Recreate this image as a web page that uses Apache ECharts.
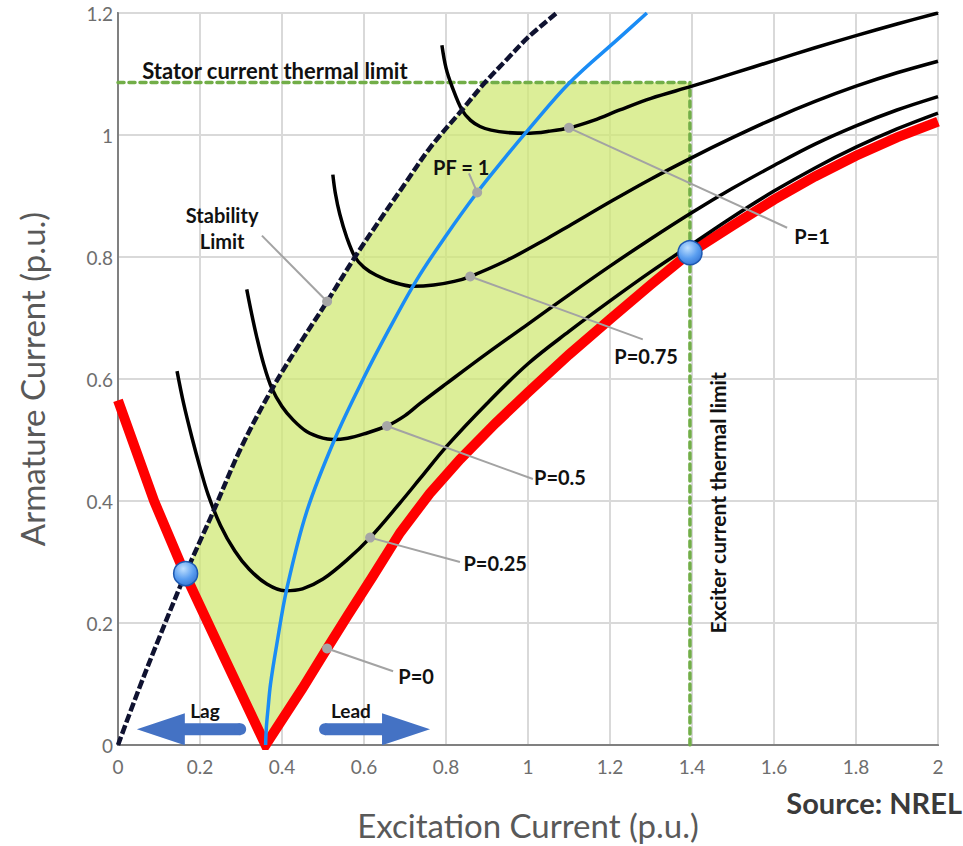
<!DOCTYPE html>
<html>
<head>
<meta charset="utf-8">
<script src="https://cdn.jsdelivr.net/npm/echarts@6/dist/echarts.min.js"></script>
<style>html,body{margin:0;padding:0;background:#fff}#chart{width:963px;height:846px}</style>
</head>
<body>
<div id="chart"></div>
<script>
// ---------- axis settings ----------
const xMin = 0, xMax = 2, xStep = 0.2;
const yMin = 0, yMax = 1.2, yStep = 0.2;

// ---------- curves (Excitation current x, Armature current y) ----------
const p0LeftX  = [0, 0.088, 0.163, 0.26, 0.36];
const p0LeftY  = [0.565, 0.4, 0.281, 0.142, 0];
const p0RightX = [0.36, 0.45, 0.507, 0.56, 0.62, 0.688, 0.76, 0.834, 0.92, 1.0, 1.1, 1.2, 1.3, 1.393, 1.5, 1.6, 1.7, 1.8, 1.9, 2.0];
const p0RightY = [0, 0.093, 0.155, 0.212, 0.275, 0.348, 0.412, 0.468, 0.527, 0.578, 0.64, 0.698, 0.755, 0.806, 0.852, 0.894, 0.932, 0.966, 0.996, 1.022];

const p025X = [0.144, 0.16, 0.18, 0.2, 0.22, 0.25, 0.285, 0.32, 0.363, 0.407, 0.45, 0.5, 0.558, 0.615, 0.688, 0.737, 0.802, 0.9, 1.0, 1.1, 1.2, 1.3, 1.4, 1.5, 1.6, 1.7, 1.8, 1.9, 2.0];
const p025Y = [0.613, 0.56, 0.505, 0.455, 0.41, 0.36, 0.318, 0.288, 0.264, 0.253, 0.256, 0.272, 0.303, 0.34, 0.397, 0.437, 0.49, 0.56, 0.625, 0.678, 0.728, 0.776, 0.821, 0.866, 0.908, 0.946, 0.98, 1.01, 1.036];

const p05X = [0.314, 0.325, 0.338, 0.355, 0.375, 0.4, 0.427, 0.46, 0.5, 0.524, 0.56, 0.6, 0.656, 0.7, 0.737, 0.8, 0.9, 1.0, 1.1, 1.2, 1.3, 1.4, 1.5, 1.6, 1.7, 1.8, 1.9, 2.0];
const p05Y = [0.747, 0.71, 0.67, 0.625, 0.585, 0.555, 0.533, 0.514, 0.503, 0.501, 0.503, 0.51, 0.523, 0.54, 0.56, 0.592, 0.642, 0.69, 0.738, 0.785, 0.83, 0.873, 0.913, 0.95, 0.985, 1.015, 1.041, 1.063];

const p075X = [0.524, 0.53, 0.541, 0.558, 0.578, 0.6, 0.63, 0.67, 0.72, 0.77, 0.82, 0.859, 0.95, 1.046, 1.1, 1.207, 1.3, 1.4, 1.5, 1.6, 1.7, 1.8, 1.9, 2.0];
const p075Y = [0.935, 0.905, 0.87, 0.832, 0.8, 0.783, 0.77, 0.759, 0.752, 0.754, 0.76, 0.768, 0.795, 0.83, 0.851, 0.893, 0.928, 0.963, 0.996, 1.027, 1.055, 1.08, 1.102, 1.121];

const p1X = [0.79, 0.8, 0.815, 0.839, 0.86, 0.883, 0.91, 0.949, 1.005, 1.05, 1.102, 1.16, 1.224, 1.3, 1.4, 1.5, 1.6, 1.7, 1.8, 1.9, 2.0];
const p1Y = [1.147, 1.11, 1.079, 1.041, 1.024, 1.014, 1.008, 1.004, 1.003, 1.006, 1.012, 1.024, 1.041, 1.06, 1.08, 1.101, 1.122, 1.143, 1.163, 1.182, 1.2];

const pfX = [0.36, 0.362, 0.366, 0.372, 0.387, 0.412, 0.46, 0.529, 0.598, 0.66, 0.729, 0.8, 0.875, 0.944, 1.0, 1.102, 1.224, 1.29];
const pfY = [0, 0.03, 0.06, 0.1, 0.164, 0.257, 0.382, 0.502, 0.6, 0.68, 0.763, 0.835, 0.905, 0.963, 1.008, 1.086, 1.16, 1.2];

const stabX = [0, 0.05, 0.1, 0.163, 0.232, 0.3, 0.376, 0.45, 0.51, 0.578, 0.64, 0.7, 0.761, 0.839, 0.895, 0.95, 1.0, 1.07];
const stabY = [0, 0.09, 0.175, 0.278, 0.382, 0.487, 0.584, 0.665, 0.727, 0.8, 0.862, 0.92, 0.979, 1.041, 1.086, 1.125, 1.16, 1.2];

// ---------- limits & operating points ----------
const statorLimit = 1.086;
const exciterLimit = 1.395;
const opX = [0.165, 1.395];
const opY = [0.281, 0.807];

// ---------- annotations ----------
const annLabels  = ['Stability\nLimit', 'PF = 1', 'P=1', 'P=0.75', 'P=0.5', 'P=0.25', 'P=0'];
const annCurve   = ['stab', 'pf', 'p1', 'p075', 'p05', 'p025', 'p0'];
const annMarkerX = [0.51, 0.876, 1.1, 0.859, 0.656, 0.615, 0.51];
const annLeaderX = [0.351, 0.856, 1.632, 1.28, 1.012, 0.834, 0.671];
const annLeaderY = [0.835, 0.937, 0.848, 0.665, 0.436, 0.3, 0.121];
const annTextX   = [0.254, 0.837, 1.693, 1.288, 1.078, 0.92, 0.727];
const annTextY   = [0.848, 0.948, 0.834, 0.638, 0.44, 0.298, 0.113];

const noteLabels = ['Stator current thermal limit', 'Exciter current thermal limit', 'Lag', 'Lead'];
const noteX      = [0.059, 1.461, 0.212, 0.568];
const noteY      = [1.105, 0.397, 0.056, 0.056];
const noteRot    = [0, 90, 0, 0];
const noteAlign  = ['left', 'center', 'center', 'center'];
const noteSize   = [22, 21, 19, 19];

const arrowTipX  = [0.046, 0.761];
const arrowBaseX = [0.163, 0.644];
const arrowTailX = [0.298, 0.505];
const arrowY = 0.026;

// ---------- helpers ----------
function pairs(xs, ys) { return xs.map((x, i) => [x, ys[i]]); }
function interp(xs, ys, x) {
  for (let i = 0; i < xs.length - 1; i++) {
    if (x >= xs[i] && x <= xs[i + 1]) {
      const t = (x - xs[i]) / (xs[i + 1] - xs[i]);
      return ys[i] + t * (ys[i + 1] - ys[i]);
    }
  }
  return x < xs[0] ? ys[0] : ys[ys.length - 1];
}
const curves = {
  stab: [stabX, stabY], pf: [pfX, pfY], p1: [p1X, p1Y], p075: [p075X, p075Y],
  p05: [p05X, p05Y], p025: [p025X, p025Y], p0: [p0RightX, p0RightY]
};
const annMarkerY = annMarkerX.map((x, i) => interp(curves[annCurve[i]][0], curves[annCurve[i]][1], x));

// operating region polygon (data coords)
function buildRegion() {
  const poly = [[opX[0], opY[0]]];
  let xc = null;
  for (let i = 0; i < stabX.length - 1; i++) {
    if (stabY[i] <= statorLimit && stabY[i + 1] >= statorLimit) {
      xc = stabX[i] + (statorLimit - stabY[i]) / (stabY[i + 1] - stabY[i]) * (stabX[i + 1] - stabX[i]);
      break;
    }
  }
  stabX.forEach((x, i) => { if (x > opX[0] && x < xc) poly.push([x, stabY[i]]); });
  poly.push([xc, statorLimit]);
  poly.push([exciterLimit, statorLimit]);
  poly.push([exciterLimit, interp(p0RightX, p0RightY, exciterLimit)]);
  for (let i = p0RightX.length - 1; i >= 0; i--) if (p0RightX[i] < exciterLimit) poly.push([p0RightX[i], p0RightY[i]]);
  for (let i = p0LeftX.length - 2; i >= 0; i--) if (p0LeftX[i] > opX[0]) poly.push([p0LeftX[i], p0LeftY[i]]);
  return poly;
}
const region = buildRegion();

const FONT = 'Lato, "Open Sans", sans-serif';

function blackCurve(name, xs, ys) {
  return {
    name, type: 'line', data: pairs(xs, ys), showSymbol: false, symbol: 'none',
    smooth: 0.35, z: 5,
    lineStyle: { color: '#000', width: 3.5 }
  };
}

const chart = echarts.init(document.getElementById('chart'), null, { renderer: 'svg' });
chart.setOption({
  animation: false,
  backgroundColor: '#fff',
  grid: { left: 118, right: 25, top: 13, bottom: 99, show: true, borderColor: '#808080', borderWidth: 2, containLabel: false },
  xAxis: {
    type: 'value', min: xMin, max: xMax, interval: xStep,
    name: 'Excitation Current (p.u.)', nameLocation: 'middle', nameGap: 63,
    nameTextStyle: { color: '#595959', fontSize: 33, fontFamily: FONT },
    axisLine: { show: true, lineStyle: { color: '#808080', width: 2 } },
    axisTick: { show: false },
    axisLabel: { color: '#6e6e6e', fontSize: 19, fontFamily: FONT, margin: 12 },
    splitLine: { show: true, lineStyle: { color: '#d9d9d9', width: 2 } }
  },
  yAxis: {
    type: 'value', min: yMin, max: yMax, interval: yStep,
    name: 'Armature Current (p.u.)', nameLocation: 'middle', nameGap: 70,
    nameTextStyle: { color: '#595959', fontSize: 33, fontFamily: FONT },
    axisLine: { show: true, lineStyle: { color: '#808080', width: 2 } },
    axisTick: { show: false },
    axisLabel: { color: '#6e6e6e', fontSize: 19, fontFamily: FONT, margin: 5 },
    splitLine: { show: true, lineStyle: { color: '#d9d9d9', width: 2 } }
  },
  graphic: [{
    type: 'text', right: 1, top: 788,
    style: { text: 'Source: NREL', fill: '#3a3a3a', font: 'bold 29px ' + FONT }
  }],
  series: [
    {
      name: 'Operating region', type: 'custom', coordinateSystem: 'cartesian2d', z: 1,
      data: [region[0]], silent: true,
      renderItem: function (params, api) {
        return {
          type: 'polygon',
          shape: { points: region.map(p => api.coord(p)) },
          style: { fill: 'rgba(206,232,112,0.72)' }
        };
      }
    },
    {
      name: 'Stator current thermal limit', type: 'line', data: [[xMin, statorLimit], [exciterLimit, statorLimit]],
      showSymbol: false, symbol: 'none', z: 3,
      lineStyle: { color: '#72ae48', width: 3.5, type: [6, 5], cap: 'round' }
    },
    {
      name: 'Exciter current thermal limit', type: 'line', data: [[exciterLimit, yMin], [exciterLimit, statorLimit]],
      showSymbol: false, symbol: 'none', z: 3,
      lineStyle: { color: '#72ae48', width: 3.5, type: [6, 5], cap: 'round' }
    },
    {
      name: 'P=0', type: 'line', data: pairs(p0LeftX, p0LeftY).concat(pairs(p0RightX.slice(1), p0RightY.slice(1))),
      showSymbol: false, symbol: 'none', z: 4,
      lineStyle: { color: '#ff0000', width: 10, join: 'miter' }
    },
    blackCurve('P=0.25', p025X, p025Y),
    blackCurve('P=0.5', p05X, p05Y),
    blackCurve('P=0.75', p075X, p075Y),
    blackCurve('P=1', p1X, p1Y),
    {
      name: 'Stability Limit', type: 'line', data: pairs(stabX, stabY), showSymbol: false, symbol: 'none',
      smooth: 0.35, z: 6,
      lineStyle: { color: '#0f1230', width: 4.5, type: [9, 3], dashOffset: 0 }
    },
    {
      name: 'PF = 1', type: 'line', data: pairs(pfX, pfY), showSymbol: false, symbol: 'none',
      smooth: 0.35, z: 7,
      lineStyle: { color: '#1a8cf5', width: 3.5 }
    },
    {
      name: 'Annotations', type: 'custom', coordinateSystem: 'cartesian2d', z: 8, silent: true,
      data: annMarkerX.map((x, i) => [x, annMarkerY[i]]),
      renderItem: function (params, api) {
        const i = params.dataIndex;
        const m = api.coord([annMarkerX[i], annMarkerY[i]]);
        const l = api.coord([annLeaderX[i], annLeaderY[i]]);
        const t = api.coord([annTextX[i], annTextY[i]]);
        return {
          type: 'group', children: [
            { type: 'line', shape: { x1: m[0], y1: m[1], x2: l[0], y2: l[1] }, style: { stroke: '#a3a3a3', lineWidth: 2 } },
            { type: 'circle', shape: { cx: m[0], cy: m[1], r: 5 }, style: { fill: '#a6a6a6' } },
            { type: 'text', x: t[0], y: t[1], style: { text: annLabels[i], fill: '#111', font: 'bold 20px ' + FONT, align: 'center', verticalAlign: 'middle', textAlign: 'center', textVerticalAlign: 'middle', lineHeight: 26 } }
          ]
        };
      }
    },
    {
      name: 'Notes', type: 'custom', coordinateSystem: 'cartesian2d', z: 8, silent: true,
      data: noteX.map((x, i) => [x, noteY[i]]),
      renderItem: function (params, api) {
        const i = params.dataIndex;
        const p = api.coord([noteX[i], noteY[i]]);
        return {
          type: 'text', x: p[0], y: p[1], rotation: noteRot[i] * Math.PI / 180,
          style: { text: noteLabels[i], fill: '#111', font: 'bold ' + noteSize[i] + 'px ' + FONT, align: noteAlign[i], verticalAlign: 'middle', textAlign: noteAlign[i], textVerticalAlign: 'middle' }
        };
      }
    },
    {
      name: 'Arrows', type: 'custom', coordinateSystem: 'cartesian2d', z: 8, silent: true,
      data: arrowTipX.map((x, i) => [x, arrowY]),
      renderItem: function (params, api) {
        const i = params.dataIndex;
        const tip = api.coord([arrowTipX[i], arrowY]);
        const base = api.coord([arrowBaseX[i], arrowY]);
        const tail = api.coord([arrowTailX[i], arrowY]);
        const hh = 16, sh = 6, cy = tip[1];
        return {
          type: 'group', children: [
            { type: 'polygon', shape: { points: [[tip[0], cy], [base[0], cy - hh], [base[0], cy - sh], [tail[0], cy - sh], [tail[0], cy + sh], [base[0], cy + sh], [base[0], cy + hh]] }, style: { fill: '#4472c4' } },
            { type: 'circle', shape: { cx: tail[0], cy: cy, r: sh }, style: { fill: '#4472c4' } }
          ]
        };
      }
    },
    {
      name: 'Operating limits', type: 'scatter', data: pairs(opX, opY), symbolSize: 24, z: 9,
      itemStyle: {
        opacity: 1,
        color: { type: 'radial', x: 0.4, y: 0.3, r: 0.8, colorStops: [{ offset: 0, color: '#bfe0ff' }, { offset: 0.55, color: '#5a9ef0' }, { offset: 1, color: '#2f6fd0' }] },
        borderColor: '#1d58b0', borderWidth: 1.5
      }
    }
  ]
});
</script>
</body>
</html>
